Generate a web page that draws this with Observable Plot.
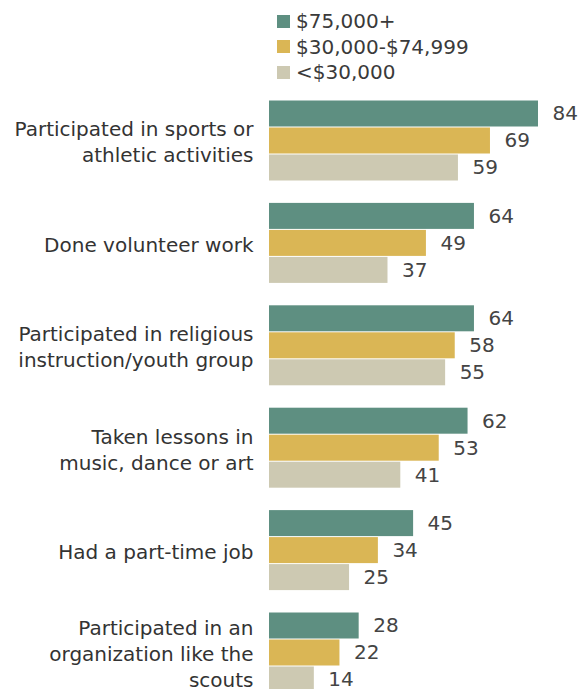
<!DOCTYPE html>
<html>
<head>
<meta charset="utf-8">
<script src="https://cdn.jsdelivr.net/npm/d3@7"></script>
<script src="https://cdn.jsdelivr.net/npm/@observablehq/plot@0.6"></script>
<style>
  html, body { margin: 0; padding: 0; background: #fff; overflow: hidden; }
  body { width: 581px; height: 689px; font-family: "DejaVu Sans", sans-serif; }
  #legend { position: relative; height: 88px; }
  .item { position: absolute; left: 277px; display: flex; align-items: center; font-size: 20px; color: #3a3a3a; height: 26px; line-height: 26px; }
  .sw { width: 13px; height: 13px; margin-right: 6px; }
  #chart svg { display: block; overflow: hidden; }
</style>
</head>
<body>
<div id="legend"></div>
<div id="chart"></div>
<script>
const categories = [
  "Participated in sports or\nathletic activities",
  "Done volunteer work",
  "Participated in religious\ninstruction/youth group",
  "Taken lessons in\nmusic, dance or art",
  "Had a part-time job",
  "Participated in an\norganization like the\nscouts"
];
const incomes = ["$75,000+", "$30,000-$74,999", "<$30,000"];
const values75 = [84, 64, 64, 62, 45, 28];
const values30 = [69, 49, 58, 53, 34, 22];
const valuesLow = [59, 37, 55, 41, 25, 14];
const colors = ["#5e8f81", "#dab655", "#cdc9b2"];

const series = [values75, values30, valuesLow];
const data = [];
categories.forEach((c, i) => incomes.forEach((inc, j) => data.push({category: c, income: inc, value: series[j][i]})));

const legend = document.getElementById("legend");
incomes.forEach((inc, j) => {
  const d = document.createElement("div");
  d.className = "item";
  d.style.top = (8 + j * 25.5) + "px";
  d.innerHTML = `<span class="sw" style="background:${colors[j]}"></span><span></span>`;
  d.lastChild.textContent = inc;
  legend.appendChild(d);
});

const chart = Plot.plot({
  width: 581,
  height: 605,
  marginLeft: 269,
  marginRight: 43,
  marginTop: 12,
  marginBottom: 0,
  style: {fontFamily: "DejaVu Sans, sans-serif"},
  x: {domain: [0, 84], axis: null},
  y: {domain: incomes, axis: null, padding: 0, round: false},
  fy: {domain: categories, axis: null, paddingInner: 0.209, paddingOuter: 0, round: false},
  color: {domain: incomes, range: colors},
  marks: [
    Plot.barX(data, {fy: "category", y: "income", x: "value", fill: "income", insetTop: 0.5, insetBottom: 0.5}),
    Plot.text(data, {fy: "category", y: "income", x: "value", text: d => String(d.value), textAnchor: "start", dx: 14, dy: 0, fontSize: 20, fill: "#444"}),
    Plot.text(categories, {fy: d => d, text: d => d, frameAnchor: "left", textAnchor: "end", dx: -16, dy: 0, fontSize: 20, lineHeight: 1.3, fill: "#333"})
  ]
});
document.getElementById("chart").appendChild(chart);
</script>
</body>
</html>
